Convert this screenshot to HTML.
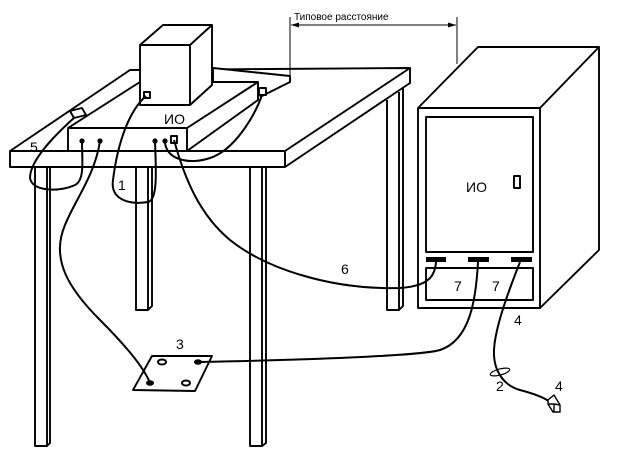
<!DOCTYPE html>
<html><head><meta charset="utf-8"><style>
html,body{margin:0;padding:0;background:#fff;}
svg{display:block;}
text{font-family:"Liberation Sans",sans-serif;fill:#000;}
</style></head><body>
<svg width="625" height="456" viewBox="0 0 625 456" xmlns="http://www.w3.org/2000/svg">
<rect width="625" height="456" fill="#fff"/>
<g fill="none" stroke="#000" stroke-width="1.9" stroke-linejoin="round">
<!-- legs -->
<path d="M35 167 V446 H47 L50 443 V167 M47 167 V446"/>
<path d="M250 167 V446 H262 L266 443 V167 M262 167 V446"/>
<path d="M136 167 V310 H148 L152 306 V167 M148 167 V310"/>
<path d="M387 100 V310 H399 L403 306 V83 M399 92 V310"/>
<!-- table top -->
<path fill="#fff" d="M10 151 L130 70 L410 68 L410 83 L285 167 H10 Z"/>
<path d="M10 151 H285 L410 68 M285 151 V167"/>
<!-- back strip -->
<path fill="#fff" d="M213 68 L290 76 V82 L262 96 L213 86 Z"/>
<rect x="259" y="88" width="7" height="7" fill="#fff"/>
<!-- small box -->
<path fill="#fff" d="M68 128 L140 82 H258 V100 L187 151 H68 Z"/>
<path d="M68 128 H187 L258 82 M187 128 V151"/>
<!-- cube -->
<path fill="#fff" d="M140 45 L163 25 H212 V85 L190 105 H140 Z"/>
<path d="M140 45 H190 L212 25 M190 45 V105"/>
<rect x="144" y="92" width="6" height="6"/>
<!-- connector 5 -->
<path fill="#fff" d="M70 111 L82 108 L86 115 L74 118 Z"/>
<rect x="171" y="136" width="6" height="7" fill="#fff"/>
<!-- cabinet -->
<path fill="#fff" d="M418 108 L478 47 H599 V250 L540 308 H418 Z"/>
<path d="M418 108 H540 L599 47 M540 108 V308"/>
<rect x="426" y="117" width="107" height="135"/>
<rect x="426" y="268" width="107" height="32"/>
<rect x="514" y="176" width="6" height="12"/>
<!-- dimension -->
<path d="M290 17 V78 M457 17 V64 M291 25 H456" stroke-width="1"/>
<!-- ground plate -->
<path d="M152 356 L212 356 L195 391 L133 390 Z"/>
<ellipse cx="162" cy="362" rx="4" ry="2.5"/>
<ellipse cx="186" cy="383" rx="4" ry="2.5"/>
<!-- cables -->
<g stroke-width="2">
<path d="M174 140 C185 180 200 215 230 240 C265 268 330 290 400 288 C430 286 435 275 436 262"/>
<path d="M146 96 C130 110 118 140 113 180 C110 200 130 205 148 202 C158 200 156 170 155 141"/>
<path d="M75 117 C55 135 30 160 30 178 C32 192 60 192 75 185 C85 180 82 160 82 141"/>
<path d="M100 141 C95 175 75 200 65 225 C50 260 70 290 100 320 C130 350 145 370 150 383"/>
<path d="M198 362 C300 360 420 356 440 350 C470 340 476 300 478 262"/>
<path d="M520 262 C505 300 495 330 494 350 C493 372 505 386 520 390 C535 394 545 398 550 402"/>
<path d="M165 141 C165 160 190 165 210 158 C235 150 255 115 262 95"/>
</g>
<ellipse cx="500" cy="372" rx="10" ry="3" transform="rotate(-15 500 372)" stroke-width="1.2"/>
<path fill="#fff" d="M548 400 L554 395 L560 405 V412 H553 L548 404 Z M548 404 H554 L560 405 M554 404 V412" stroke-width="1.4"/>
</g>
<g fill="#000">
<polygon points="291,25 299,22.5 299,27.5"/>
<polygon points="456,25 448,22.5 448,27.5"/>
<circle cx="82" cy="141" r="2.6"/><circle cx="100" cy="141" r="2.6"/>
<circle cx="155" cy="141" r="2.6"/><circle cx="165" cy="141" r="2.6"/>
<ellipse cx="198" cy="362" rx="4" ry="2.8"/><ellipse cx="150" cy="383" rx="4" ry="2.8"/>
<rect x="426" y="257" width="20" height="5"/>
<rect x="468" y="257" width="21" height="5"/>
<rect x="511" y="257" width="21" height="5"/>
</g>
<text x="294" y="20" font-size="10">Типовое расстояние</text>
<text x="164" y="124" font-size="14">ИО</text>
<text x="466" y="192" font-size="14">ИО</text>
<text x="30" y="152" font-size="14">5</text>
<text x="118" y="190" font-size="14">1</text>
<text x="176" y="349" font-size="14">3</text>
<text x="341" y="274" font-size="14">6</text>
<text x="454" y="291" font-size="14">7</text>
<text x="492" y="291" font-size="14">7</text>
<text x="514" y="325" font-size="14">4</text>
<text x="496" y="391" font-size="14">2</text>
<text x="555" y="391" font-size="14">4</text>
</svg>
</body></html>
